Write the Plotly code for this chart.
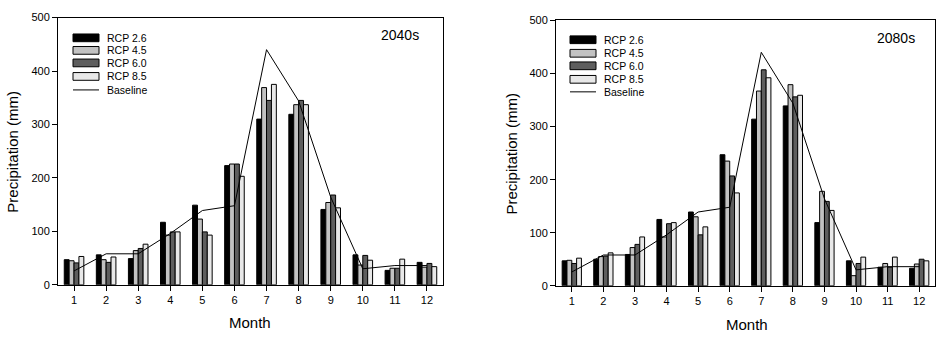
import plotly.graph_objects as go

months = list(range(1, 13))
series_names = ["RCP 2.6", "RCP 4.5", "RCP 6.0", "RCP 8.5"]
series_colors = ["#000000", "#c2c2c2", "#5e5e5e", "#e8e8e8"]

# 2040s
rcp26_2040 = [47, 56, 49, 117, 149, 223, 310, 319, 141, 56, 27, 42]
rcp45_2040 = [45, 47, 64, 93, 123, 226, 369, 337, 154, 37, 31, 33]
rcp60_2040 = [41, 42, 68, 99, 99, 226, 345, 345, 168, 55, 31, 40]
rcp85_2040 = [53, 52, 76, 99, 93, 203, 375, 337, 144, 46, 48, 34]

# 2080s
rcp26_2080 = [47, 50, 59, 125, 139, 247, 314, 339, 119, 47, 35, 33]
rcp45_2080 = [48, 55, 72, 92, 130, 235, 367, 379, 178, 19, 42, 41]
rcp60_2080 = [42, 56, 78, 117, 96, 207, 407, 356, 159, 42, 35, 50]
rcp85_2080 = [52, 62, 92, 119, 111, 175, 392, 359, 142, 54, 54, 47]

baseline = [26, 58, 58, 96, 139, 148, 440, 344, 164, 30, 36, 36]

yticks = [0, 100, 200, 300, 400, 500]
panel_labels = ["2040s", "2080s"]

W, H = 944, 340
FONT = "Liberation Sans, Arial, sans-serif"


def px(x, y):
    return x / W, 1 - y / H


fig = go.Figure()

panels = [
    ([rcp26_2040, rcp45_2040, rcp60_2040, rcp85_2040], "x", "y"),
    ([rcp26_2080, rcp45_2080, rcp60_2080, rcp85_2080], "x2", "y2"),
]

for data, xa, ya in panels:
    for name, vals, col in zip(series_names, data, series_colors):
        fig.add_trace(go.Bar(
            x=months, y=vals, name=name, xaxis=xa, yaxis=ya,
            marker=dict(color=col, line=dict(color="black", width=1)),
            showlegend=False,
        ))
    fig.add_trace(go.Scatter(
        x=months, y=baseline, mode="lines", name="Baseline",
        xaxis=xa, yaxis=ya, line=dict(color="black", width=1),
        showlegend=False,
    ))

# plot area pixel boxes
boxes = [(58, 443, 12, 289), (556, 935, 15, 290)]

axis_common = dict(
    showline=True, linecolor="black", linewidth=1, mirror=True,
    ticks="outside", ticklen=5, tickcolor="black", tickwidth=1,
    showgrid=False, zeroline=False,
    tickfont=dict(family=FONT, size=11, color="black"),
)

for i, (x0, x1, y0, y1) in enumerate(boxes):
    sfx = "" if i == 0 else str(i + 1)
    fig.update_layout(**{
        "xaxis" + sfx: dict(
            domain=[x0 / W, x1 / W], range=[0.5, 12.5],
            tickvals=months, anchor="y" + sfx, **axis_common),
        "yaxis" + sfx: dict(
            domain=[1 - y1 / H, 1 - y0 / H], range=[0, 500],
            tickvals=yticks, anchor="x" + sfx, **axis_common),
    })

annotations = []
shapes = []

# axis titles and panel labels
titles = [
    (13, 151, 250, 328, 400, 30),
    (512, 153, 747, 330, 896, 33),
]
for i, (ytx, yty, mx, my, lx, ly) in enumerate(titles):
    ax, ay = px(ytx, yty)
    annotations.append(dict(text="Precipitation (mm)", x=ax, y=ay, xref="paper", yref="paper",
                            showarrow=False, textangle=-90, xanchor="center", yanchor="middle",
                            font=dict(family=FONT, size=15, color="black")))
    ax, ay = px(mx, my)
    annotations.append(dict(text="Month", x=ax, y=ay, xref="paper", yref="paper",
                            showarrow=False, xanchor="center", yanchor="middle",
                            font=dict(family=FONT, size=15, color="black")))
    ax, ay = px(lx, ly)
    annotations.append(dict(text=panel_labels[i], x=ax, y=ay, xref="paper", yref="paper",
                            showarrow=False, xanchor="center", yanchor="middle",
                            font=dict(family=FONT, size=14, color="black")))

# custom legends
legend_pos = [
    (73, 99, 105, [33, 46, 59, 73, 87]),
    (570, 596, 602, [35, 49, 62, 76, 89]),
]
for (rx0, rx1, tx, ys) in legend_pos:
    for name, col, yc in zip(series_names, series_colors, ys[:4]):
        a0, b0 = px(rx0, yc - 4)
        a1, b1 = px(rx1, yc + 4)
        shapes.append(dict(type="rect", xref="paper", yref="paper", x0=a0, x1=a1, y0=b1, y1=b0,
                           fillcolor=col, line=dict(color="black", width=1)))
        ax, ay = px(tx, yc)
        annotations.append(dict(text=name, x=ax, y=ay, xref="paper", yref="paper",
                                showarrow=False, xanchor="left", yanchor="middle",
                                font=dict(family=FONT, size=10.5, color="black")))
    yc = ys[4]
    a0, b0 = px(rx0, yc)
    a1, _ = px(rx1, yc)
    shapes.append(dict(type="line", xref="paper", yref="paper", x0=a0, x1=a1, y0=b0, y1=b0,
                       line=dict(color="black", width=1)))
    ax, ay = px(tx, yc)
    annotations.append(dict(text="Baseline", x=ax, y=ay, xref="paper", yref="paper",
                            showarrow=False, xanchor="left", yanchor="middle",
                            font=dict(family=FONT, size=10.5, color="black")))

fig.update_layout(
    width=W, height=H,
    margin=dict(l=0, r=0, t=0, b=0),
    paper_bgcolor="white", plot_bgcolor="white",
    barmode="group", bargap=0.39, bargroupgap=0,
    showlegend=False,
    annotations=annotations, shapes=shapes,
    font=dict(family=FONT, color="black"),
)

fig.write_html("out.html")
